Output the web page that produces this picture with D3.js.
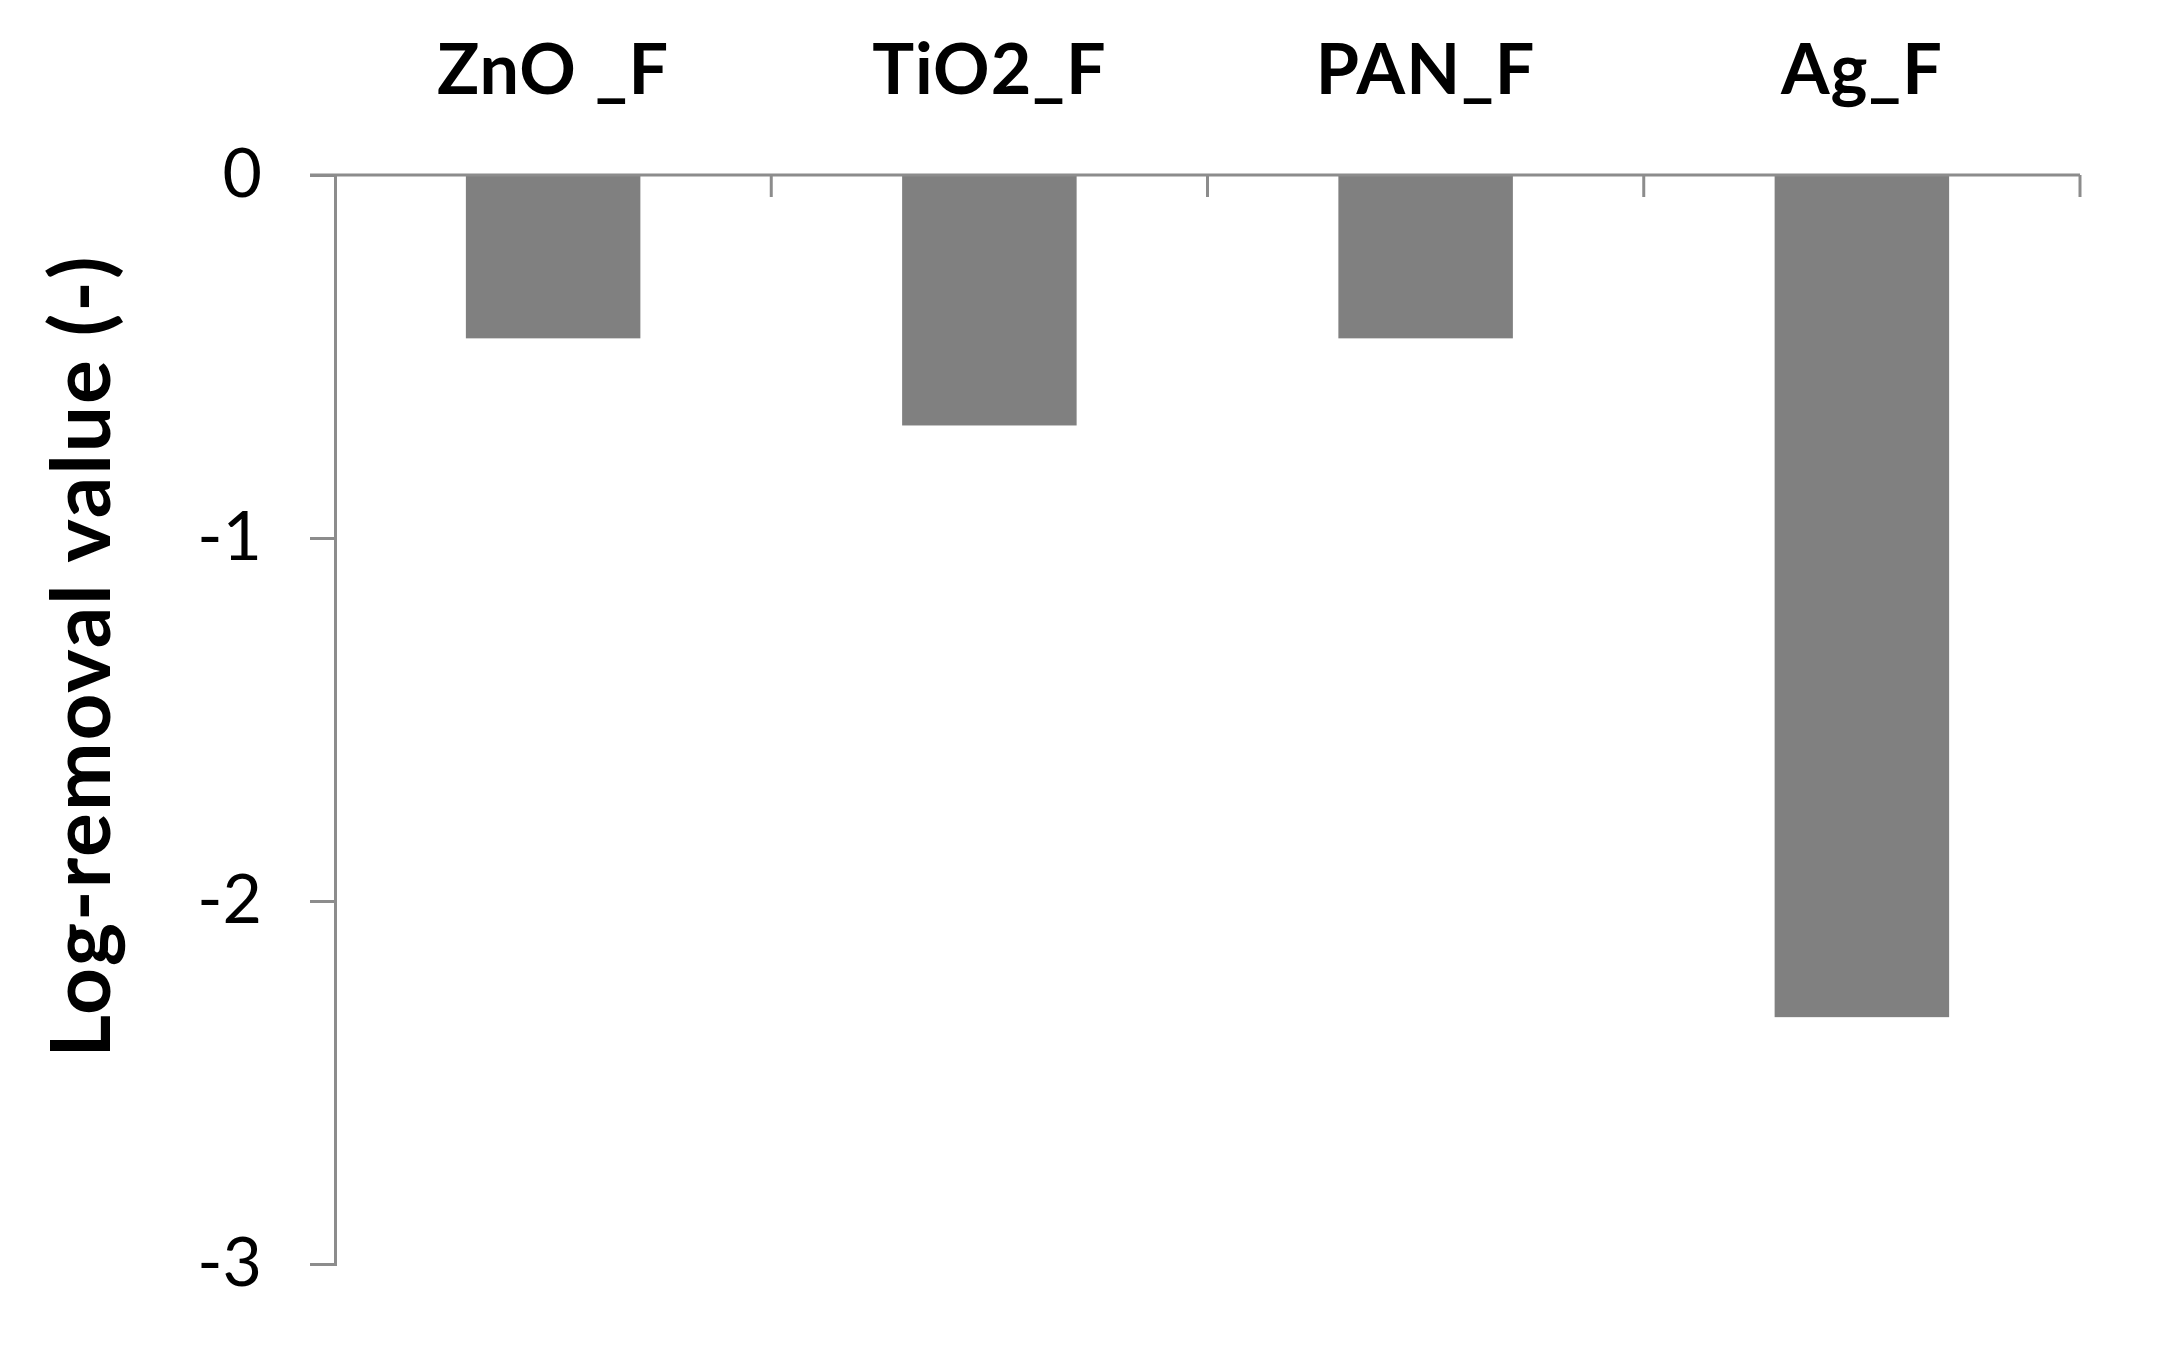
<!DOCTYPE html>
<html>
<head>
<meta charset="utf-8">
<script src="https://cdn.jsdelivr.net/npm/d3@7"></script>
<style>
  body { margin: 0; background: #fff; }
  text { font-family: Lato, 'Open Sans', sans-serif; }
</style>
</head>
<body>
<div id="chart"></div>
<script>
// data
const categories = ['ZnO _F', 'TiO2_F', 'PAN_F', 'Ag_F'];
const values = [-0.45, -0.69, -0.45, -2.32];
const yTicks = [0, -1, -2, -3];

const margin = {
  top: 175, right: 86, bottom: 85, left: 335,
};
const width = 2166 - margin.left - margin.right;
const height = 1349 - margin.top - margin.bottom;

const x = d3.scaleBand()
  .domain(categories)
  .range([0, width])
  .paddingInner(0.6)
  .paddingOuter(0.3);
const y = d3.scaleLinear()
  .domain([-3, 0])
  .range([height, 0]);

const svg = d3.select('#chart').append('svg')
  .attr('width', 2166)
  .attr('height', 1349)
  .append('g')
  .attr('transform', `translate(${margin.left},${margin.top})`);

// bars
svg.selectAll('.bar')
  .data(values)
  .enter().append('rect')
  .attr('class', 'bar')
  .attr('x', (d, i) => x(categories[i]))
  .attr('y', y(0))
  .attr('width', x.bandwidth())
  .attr('height', d => y(d) - y(0))
  .style('fill', '#808080');

// y axis
const yAxis = svg.append('g')
  .call(d3.axisLeft(y).tickValues(yTicks).tickSize(25).tickPadding(48)
    .tickFormat(d => String(d)));
yAxis.select('.domain').attr('stroke', '#8c8c8c').attr('stroke-width', 3);
yAxis.selectAll('.tick line').attr('stroke', '#8c8c8c').attr('stroke-width', 3);
yAxis.selectAll('.tick text')
  .style('font-size', '68px')
  .style('fill', '#000');

// zero line with category ticks at band boundaries
const edges = categories.map(c => x(c) + x.bandwidth() + x.step() * x.paddingInner() / 2);
svg.append('line')
  .attr('x1', -25)
  .attr('x2', width)
  .attr('y1', y(0))
  .attr('y2', y(0))
  .attr('stroke', '#8c8c8c')
  .attr('stroke-width', 3);
svg.selectAll('.xtick')
  .data(edges)
  .enter().append('line')
  .attr('class', 'xtick')
  .attr('x1', d => d)
  .attr('x2', d => d)
  .attr('y1', y(0))
  .attr('y2', y(0) + 22)
  .attr('stroke', '#8c8c8c')
  .attr('stroke-width', 3);

// category labels above the plot
svg.selectAll('.cat')
  .data(categories)
  .enter().append('text')
  .attr('class', 'cat')
  .attr('x', d => x(d) + x.bandwidth() / 2)
  .attr('y', -81)
  .style('text-anchor', 'middle')
  .style('font-size', '70px')
  .style('font-weight', 'bold')
  .style('letter-spacing', '1px')
  .text(d => d);

// y axis title
svg.append('text')
  .attr('transform', `translate(${110 - margin.left},${656 - margin.top}) rotate(-90)`)
  .style('text-anchor', 'middle')
  .style('font-size', '82px')
  .style('font-weight', 'bold')
  .style('letter-spacing', '2px')
  .text('Log-removal value (-)');
</script>
</body>
</html>
